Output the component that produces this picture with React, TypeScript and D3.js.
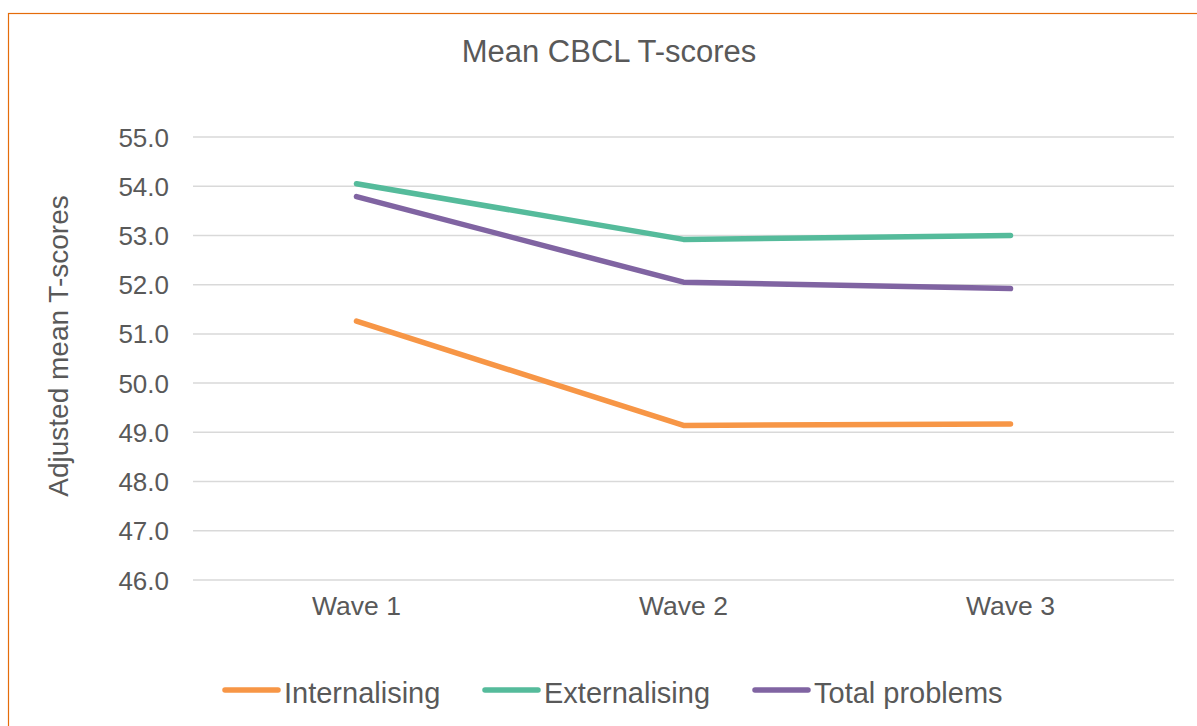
import React, { useEffect, useRef } from 'react';
import * as d3 from 'd3';

const waves = ['Wave 1', 'Wave 2', 'Wave 3'];
const internalising = [51.26, 49.14, 49.17];
const externalising = [54.05, 52.92, 53.0];
const totalProblems = [53.79, 52.05, 51.92];
const yTicks = [46, 47, 48, 49, 50, 51, 52, 53, 54, 55];

const series = [
  { name: 'Internalising', values: internalising, color: '#f79646' },
  { name: 'Externalising', values: externalising, color: '#55bb9b' },
  { name: 'Total problems', values: totalProblems, color: '#8064a2' },
];

const W = 1197;
const H = 726;
const font = '"Liberation Sans", Arial, sans-serif';
const textColor = '#595959';

const App = () => {
  const svgRef = useRef<SVGSVGElement>(null);

  useEffect(() => {
    const svg = d3.select(svgRef.current);
    svg.selectAll('*').remove();

    const left = 193;
    const right = 1174;
    const top = 137;
    const bottom = 580;

    const x = d3.scalePoint<string>().domain(waves).range([left, right]).padding(0.5);
    const y = d3.scaleLinear().domain([46, 55]).range([bottom, top]);

    // chart area border (orange, clipped at right/bottom)
    svg
      .append('rect')
      .attr('x', 8.5)
      .attr('y', 13.5)
      .attr('width', W)
      .attr('height', H)
      .attr('fill', '#fff')
      .attr('stroke', '#e46c0a')
      .attr('stroke-width', 1.2);

    svg
      .append('text')
      .attr('x', 609)
      .attr('y', 62)
      .attr('text-anchor', 'middle')
      .style('font-family', font)
      .style('font-size', '31px')
      .attr('fill', textColor)
      .text('Mean CBCL T-scores');

    // grid
    svg
      .append('g')
      .selectAll('line')
      .data(yTicks)
      .join('line')
      .attr('x1', left)
      .attr('x2', right)
      .attr('y1', (d) => y(d))
      .attr('y2', (d) => y(d))
      .attr('stroke', '#d9d9d9')
      .attr('stroke-width', 1.5);

    svg
      .append('g')
      .selectAll('text')
      .data(yTicks)
      .join('text')
      .attr('x', 169)
      .attr('y', (d) => y(d) + 9.5)
      .attr('text-anchor', 'end')
      .style('font-family', font)
      .style('font-size', '26px')
      .attr('fill', textColor)
      .text((d) => d3.format('.1f')(d));

    svg
      .append('g')
      .selectAll('text')
      .data(waves)
      .join('text')
      .attr('x', (d) => x(d)!)
      .attr('y', 615)
      .attr('text-anchor', 'middle')
      .style('font-family', font)
      .style('font-size', '26.5px')
      .attr('fill', textColor)
      .text((d) => d);

    svg
      .append('text')
      .attr('transform', `translate(68,346) rotate(-90)`)
      .attr('text-anchor', 'middle')
      .style('font-family', font)
      .style('font-size', '28px')
      .attr('fill', textColor)
      .text('Adjusted mean T-scores');

    const line = d3
      .line<number>()
      .x((_, i) => x(waves[i])!)
      .y((d) => y(d));

    svg
      .append('g')
      .selectAll('path')
      .data(series)
      .join('path')
      .attr('d', (s) => line(s.values))
      .attr('fill', 'none')
      .attr('stroke', (s) => s.color)
      .attr('stroke-width', 5.5)
      .attr('stroke-linecap', 'round')
      .attr('stroke-linejoin', 'round');

    // legend
    const legendX = [223, 483, 753];
    const lg = svg
      .append('g')
      .selectAll('g')
      .data(series)
      .join('g')
      .attr('transform', (_, i) => `translate(${legendX[i]},690)`);
    lg.append('line')
      .attr('x1', 2)
      .attr('x2', 55)
      .attr('stroke', (s) => s.color)
      .attr('stroke-width', 5.5)
      .attr('stroke-linecap', 'round');
    lg.append('text')
      .attr('x', 61)
      .attr('y', 13)
      .style('font-family', font)
      .style('font-size', '29px')
      .attr('fill', textColor)
      .text((s) => s.name);
  }, []);

  return (
    <svg
      ref={svgRef}
      width={W}
      height={H}
      style={{ position: 'fixed', left: 0, top: 0, background: '#fff' }}
    />
  );
};

export default App;
